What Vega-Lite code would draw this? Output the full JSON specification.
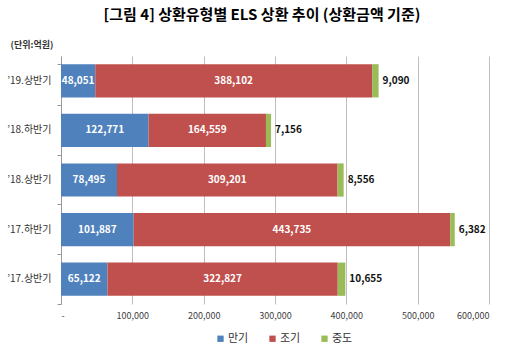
{
  "$schema": "https://vega.github.io/schema/vega-lite/v6.json",
  "width": 428,
  "height": 248,
  "autosize": "none",
  "padding": {"left": 61, "top": 56, "right": 31, "bottom": 51},
  "background": "white",
  "config": {
    "font": "Noto Sans CJK KR",
    "view": {"stroke": null}
  },
  "title": {
    "text": "[그림 4] 상환유형별 ELS 상환 추이 (상환금액 기준)",
    "font": "Noto Sans CJK KR",
    "fontSize": 15,
    "fontWeight": "bold",
    "color": "#000000",
    "anchor": "middle",
    "frame": "group",
    "dx": -13,
    "offset": 17
  },
  "data": {
    "values": [
      {"period": "’19.상반기", "type": "만기", "ord": 1, "value": 48051},
      {"period": "’19.상반기", "type": "조기", "ord": 2, "value": 388102},
      {"period": "’19.상반기", "type": "중도", "ord": 3, "value": 9090},
      {"period": "’18.하반기", "type": "만기", "ord": 1, "value": 122771},
      {"period": "’18.하반기", "type": "조기", "ord": 2, "value": 164559},
      {"period": "’18.하반기", "type": "중도", "ord": 3, "value": 7156},
      {"period": "’18.상반기", "type": "만기", "ord": 1, "value": 78495},
      {"period": "’18.상반기", "type": "조기", "ord": 2, "value": 309201},
      {"period": "’18.상반기", "type": "중도", "ord": 3, "value": 8556},
      {"period": "’17.하반기", "type": "만기", "ord": 1, "value": 101887},
      {"period": "’17.하반기", "type": "조기", "ord": 2, "value": 443735},
      {"period": "’17.하반기", "type": "중도", "ord": 3, "value": 6382},
      {"period": "’17.상반기", "type": "만기", "ord": 1, "value": 65122},
      {"period": "’17.상반기", "type": "조기", "ord": 2, "value": 322827},
      {"period": "’17.상반기", "type": "중도", "ord": 3, "value": 10655}
    ]
  },
  "transform": [
    {"stack": "value", "groupby": ["period"], "sort": [{"field": "ord", "order": "ascending"}], "as": ["v0", "v1"]},
    {"calculate": "(datum.v0 + datum.v1) / 2", "as": "mid"}
  ],
  "encoding": {
    "y": {
      "field": "period",
      "type": "nominal",
      "sort": ["’19.상반기", "’18.하반기", "’18.상반기", "’17.하반기", "’17.상반기"],
      "scale": {"paddingInner": 0.33, "paddingOuter": 0.165},
      "axis": {
        "title": "(단위:억원)",
        "titleAngle": 0,
        "titleX": -51,
        "titleY": -12,
        "titleAlign": "left",
        "titleBaseline": "middle",
        "titleFontSize": 9,
        "titleFontWeight": "bold",
        "titleColor": "#333333",
        "labelFontSize": 10,
        "labelColor": "#333333",
        "labelPadding": 6,
        "tickSize": 4,
        "tickColor": "#999999",
        "domainColor": "#999999",
        "bandPosition": 1.247,
        "tickExtra": true
      }
    }
  },
  "layer": [
    {
      "mark": {"type": "bar"},
      "encoding": {
        "x": {
          "field": "v0",
          "type": "quantitative",
          "scale": {"domain": [0, 600000], "nice": false},
          "axis": {
            "title": null,
            "values": [0, 100000, 200000, 300000, 400000, 500000, 600000],
            "labelExpr": "datum.value == 0 ? '-' : format(datum.value, ',')",
            "domain": false,
            "ticks": false,
            "grid": true,
            "gridColor": "#bfbfbf",
            "labelColor": "#404040",
            "labelFontSize": 9,
            "labelPadding": 7
          }
        },
        "x2": {"field": "v1"},
        "color": {
          "field": "type",
          "type": "nominal",
          "scale": {"domain": ["만기", "조기", "중도"], "range": ["#4F81BD", "#C0504D", "#9BBB59"]},
          "legend": {
            "title": null,
            "orient": "none",
            "direction": "horizontal",
            "legendX": 154,
            "legendY": 277,
            "symbolType": "square",
            "symbolSize": 40,
            "labelFontSize": 11,
            "labelColor": "#333333",
            "columnPadding": 18,
            "labelOffset": 2
          }
        }
      }
    },
    {
      "transform": [{"filter": "datum.type != '중도'"}],
      "mark": {"type": "text", "color": "white", "fontWeight": "bold", "fontSize": 10},
      "encoding": {
        "x": {"field": "mid", "type": "quantitative"},
        "text": {"field": "value", "type": "quantitative", "format": ","}
      }
    },
    {
      "transform": [{"filter": "datum.type == '중도'"}],
      "mark": {"type": "text", "color": "#111111", "fontWeight": "bold", "fontSize": 10, "align": "left", "dx": 4},
      "encoding": {
        "x": {"field": "v1", "type": "quantitative"},
        "text": {"field": "value", "type": "quantitative", "format": ","}
      }
    }
  ]
}
